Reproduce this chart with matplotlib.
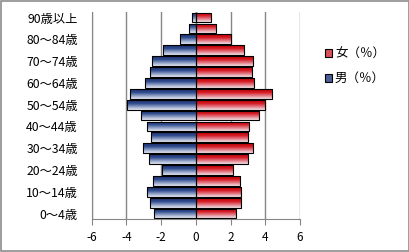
import matplotlib
matplotlib.use("Agg")
import matplotlib.pyplot as plt
import numpy as np
from matplotlib.colors import LinearSegmentedColormap
from matplotlib.patches import Patch

plt.rcParams['font.family'] = ['Noto Sans CJK JP', 'DejaVu Sans']

categories = ["0～4歳", "5～9歳", "10～14歳", "15～19歳", "20～24歳", "25～29歳",
              "30～34歳", "35～39歳", "40～44歳", "45～49歳", "50～54歳", "55～59歳",
              "60～64歳", "65～69歳", "70～74歳", "75～79歳", "80～84歳", "85～89歳",
              "90歳以上"]
female = [2.34, 2.61, 2.61, 2.55, 2.15, 3.03, 3.31, 3.00, 3.09, 3.66, 4.00, 4.38,
          3.37, 3.23, 3.29, 2.78, 2.03, 1.18, 0.86]
male = [-2.44, -2.64, -2.84, -2.49, -1.94, -2.70, -3.07, -2.59, -2.82, -3.18, -3.95,
        -3.82, -2.95, -2.67, -2.55, -1.92, -0.94, -0.40, -0.20]
xticks = [-6, -4, -2, 0, 2, 4, 6]
series_names = ["女（％）", "男（％）"]

fig = plt.figure(figsize=(4.10, 2.52), dpi=100)
fig.patch.set_facecolor('white')
fig.add_artist(plt.Rectangle((0.002, 0.003), 0.995, 0.993, transform=fig.transFigure,
                             fill=False, edgecolor='#8c8c8c', linewidth=1.2))

ax = fig.add_axes([0.2237, 0.131, 0.508, 0.821])
y = np.arange(len(categories))

red_cmap = LinearSegmentedColormap.from_list('r', ['#f3e4e8', '#e27b86', '#d41a24', '#c00000'])
blue_cmap = LinearSegmentedColormap.from_list('b', ['#e6e9f2', '#8d9dc4', '#2e4a8c', '#1c3270'])
grad = np.linspace(0, 1, 64).reshape(-1, 1)

bf = ax.barh(y, female, height=0.9, color='#d41a24', edgecolor='black', linewidth=0.8, zorder=3)
bm = ax.barh(y, male, height=0.9, color='#2e4a8c', edgecolor='black', linewidth=0.8, zorder=3)

for bars, cmap in ((bf, red_cmap), (bm, blue_cmap)):
    for p in bars:
        x0, y0, w, h = p.get_x(), p.get_y(), p.get_width(), p.get_height()
        im = ax.imshow(grad, cmap=cmap, aspect='auto', origin='lower',
                       extent=(x0, x0 + w, y0, y0 + h), zorder=3.5)
        im.set_clip_path(p)
        p.set_facecolor('none')
        p.set_zorder(4)

ax.set_xlim(-6, 6)
ax.set_ylim(-0.5, len(categories) - 0.5)
ax.set_xticks(xticks)
ax.set_xticklabels([str(t) for t in xticks], fontsize=8.5)
ax.set_yticks(y[::2])
ax.set_yticklabels(categories[::2], fontsize=8.8)
ax.tick_params(axis='y', length=0, pad=10)
ax.tick_params(axis='x', length=4, color='#868686', pad=5)
ax.xaxis.grid(True, color='#868686', linewidth=1.0, zorder=0)
ax.set_axisbelow(True)
for s in ['top', 'right']:
    ax.spines[s].set_visible(False)
ax.spines['left'].set_color('#868686')
ax.spines['bottom'].set_color('#868686')
ax.axvline(0, color='#868686', linewidth=1.0, zorder=2)

handles = [Patch(facecolor='#d9505a', edgecolor='black', linewidth=0.8),
           Patch(facecolor='#4a5f96', edgecolor='black', linewidth=0.8)]
fig.legend(handles, series_names, loc='upper left', bbox_to_anchor=(0.765, 0.855),
           frameon=False, fontsize=9, handlelength=0.6, handleheight=0.6,
           handletextpad=0.2, labelspacing=0.9)

fig.savefig('out.png', dpi=100, facecolor='white')
